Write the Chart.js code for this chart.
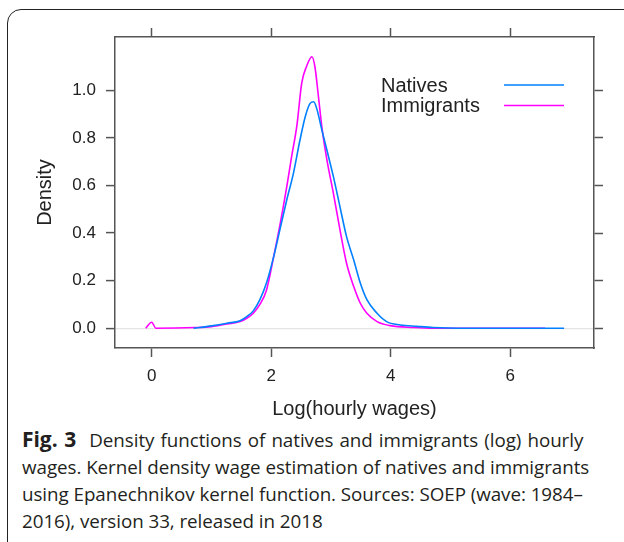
<!DOCTYPE html>
<html>
<head>
<meta charset="utf-8">
<script src="https://cdn.jsdelivr.net/npm/chart.js@4/dist/chart.umd.min.js"></script>
<style>
  html, body { margin: 0; padding: 0; background: #fff; width: 624px; height: 542px; overflow: hidden; }
  #frame {
    position: absolute; left: 7px; top: 9px; width: 660px; height: 560px;
    border: 1.3px solid #222; border-radius: 14px;
  }
  #wrap { position: absolute; left: 0; top: 0; width: 624px; height: 425px; }
  #caption {
    position: absolute; left: 22px; top: 426px; width: 600px;
    font-family: "Open Sans", sans-serif; font-size: 18.8px; line-height: 27px; color: #231f20;
    white-space: nowrap; letter-spacing: -0.05px;
  }
  #caption b { font-weight: 700; font-size: 21px; margin-right: 13px; }
  #caption .first { word-spacing: 1.3px; }
</style>
</head>
<body>
<div id="frame"></div>
<div id="wrap"><canvas id="densityChart"></canvas></div>
<div id="caption">
  <span class="first"><b>Fig. 3</b>Density functions of natives and immigrants (log) hourly</span><br>
  wages. Kernel density wage estimation of natives and immigrants<br>
  using Epanechnikov kernel function. Sources: SOEP (wave: 1984–<br>
  2016), version 33, released in 2018
</div>
<script>
// Data (x = log hourly wage, y = density)
const nativesX = [0.70, 1.00, 1.26, 1.48, 1.59, 1.70, 1.81, 1.92, 2.04, 2.15, 2.26, 2.37, 2.48, 2.57, 2.65, 2.71, 2.76, 2.85, 2.93, 3.04, 3.15, 3.26, 3.38, 3.49, 3.60, 3.77, 3.93, 4.16, 4.44, 4.71, 5.27, 6.90];
const nativesY = [0.000, 0.010, 0.021, 0.032, 0.049, 0.073, 0.120, 0.190, 0.300, 0.420, 0.540, 0.650, 0.790, 0.890, 0.945, 0.952, 0.924, 0.830, 0.750, 0.637, 0.510, 0.385, 0.287, 0.190, 0.120, 0.063, 0.028, 0.014, 0.008, 0.003, 0.000, 0.000];

const immigrantsX = [-0.10, 0.00, 0.07, 0.73, 1.00, 1.26, 1.48, 1.59, 1.70, 1.81, 1.92, 2.04, 2.15, 2.26, 2.34, 2.43, 2.51, 2.59, 2.68, 2.73, 2.79, 2.85, 2.93, 3.04, 3.15, 3.26, 3.38, 3.49, 3.60, 3.77, 3.99, 4.38, 4.71, 6.58];
const immigrantsY = [0.000, 0.025, 0.000, 0.003, 0.007, 0.018, 0.028, 0.042, 0.063, 0.100, 0.160, 0.300, 0.440, 0.595, 0.720, 0.854, 1.030, 1.100, 1.141, 1.100, 0.973, 0.840, 0.710, 0.567, 0.413, 0.273, 0.175, 0.105, 0.063, 0.028, 0.011, 0.003, 0.000, 0.000];

const seriesNames = ['Natives', 'Immigrants'];
const seriesColors = ['#0080ff', '#ff00ff'];

const xTickValues = [0, 2, 4, 6];
const yTickValues = [0, 0.2, 0.4, 0.6, 0.8, 1.0];

const xLimits = [-0.614, 7.40];
const yLimits = [-0.083, 1.224];

const toPoints = (xs, ys) => xs.map((x, i) => ({ x: x, y: ys[i] }));

// lattice style key: text on the left, line sample on the right
const keyPlugin = {
    id: 'latticeKey',
    afterDraw(chart) {
        const c = chart.ctx;
        c.save();
        chart.data.datasets.forEach((ds, i) => {
            const y = 85 + i * 20.5;
            c.font = '20px "Liberation Sans", Arial, sans-serif';
            c.fillStyle = '#222';
            c.textAlign = 'left';
            c.textBaseline = 'middle';
            c.fillText(ds.label, 381, y + 1);
            c.strokeStyle = ds.borderColor;
            c.lineWidth = 1.5;
            c.beginPath();
            c.moveTo(504, y);
            c.lineTo(564, y);
            c.stroke();
        });
        c.restore();
    }
};

const tickFont = { family: '"Liberation Sans", Arial, sans-serif', size: 17 };
const titleFont = { family: '"Liberation Sans", Arial, sans-serif', size: 20 };
const boxColor = '#555';

const ctx = document.getElementById('densityChart').getContext('2d');
const densityChart = new Chart(ctx, {
    type: 'line',
    data: {
        datasets: [
            {
                label: seriesNames[0],
                data: toPoints(nativesX, nativesY),
                borderColor: seriesColors[0],
                borderWidth: 1.6,
                pointRadius: 0,
                cubicInterpolationMode: 'monotone',
                fill: false
            },
            {
                label: seriesNames[1],
                data: toPoints(immigrantsX, immigrantsY),
                borderColor: seriesColors[1],
                borderWidth: 1.6,
                pointRadius: 0,
                cubicInterpolationMode: 'monotone',
                fill: false
            }
        ]
    },
    options: {
        responsive: true,
        maintainAspectRatio: false,
        animation: false,
        layout: { padding: 0 },
        plugins: {
            legend: { display: false },
            tooltip: { enabled: false }
        },
        scales: {
            x: {
                type: 'linear',
                position: 'bottom',
                min: xLimits[0],
                max: xLimits[1],
                afterBuildTicks: axis => { axis.ticks = xTickValues.map(v => ({ value: v })); },
                afterFit: axis => { axis.height = 77; },
                grid: { drawOnChartArea: false, tickLength: 9, tickColor: boxColor, tickWidth: 1.5 },
                border: { color: boxColor, width: 1.5 },
                ticks: { font: tickFont, color: '#222', padding: 9, maxRotation: 0 },
                title: { display: true, text: 'Log(hourly wages)', font: titleFont, color: '#222', padding: { top: 0, bottom: 4 } }
            },
            x2: {
                type: 'linear',
                position: 'top',
                min: xLimits[0],
                max: xLimits[1],
                afterBuildTicks: axis => { axis.ticks = xTickValues.map(v => ({ value: v })); },
                afterFit: axis => { axis.height = 37; },
                grid: { drawOnChartArea: false, tickLength: 9, tickColor: boxColor, tickWidth: 1.5 },
                border: { color: boxColor, width: 1.5 },
                ticks: { display: false }
            },
            y: {
                type: 'linear',
                position: 'left',
                min: yLimits[0],
                max: yLimits[1],
                afterBuildTicks: axis => { axis.ticks = yTickValues.map(v => ({ value: v })); },
                afterFit: axis => { axis.width = 115; },
                grid: {
                    drawOnChartArea: true,
                    color: c => (c.tick && c.tick.value === 0 ? '#e4e4e4' : 'rgba(0,0,0,0)'),
                    lineWidth: 1.2,
                    tickLength: 9,
                    tickColor: boxColor,
                    tickWidth: 1.5
                },
                border: { color: boxColor, width: 1.5 },
                ticks: { font: tickFont, color: '#222', padding: 10, callback: v => v.toFixed(1) },
                title: { display: true, text: 'Density', font: titleFont, color: '#222', padding: { top: 33, bottom: 0 } }
            },
            y2: {
                type: 'linear',
                position: 'right',
                min: yLimits[0],
                max: yLimits[1],
                afterBuildTicks: axis => { axis.ticks = yTickValues.map(v => ({ value: v })); },
                afterFit: axis => { axis.width = 30; },
                grid: { drawOnChartArea: false, tickLength: 9, tickColor: boxColor, tickWidth: 1.5 },
                border: { color: boxColor, width: 1.5 },
                ticks: { display: false }
            }
        }
    },
    plugins: [keyPlugin]
});
</script>
</body>
</html>
